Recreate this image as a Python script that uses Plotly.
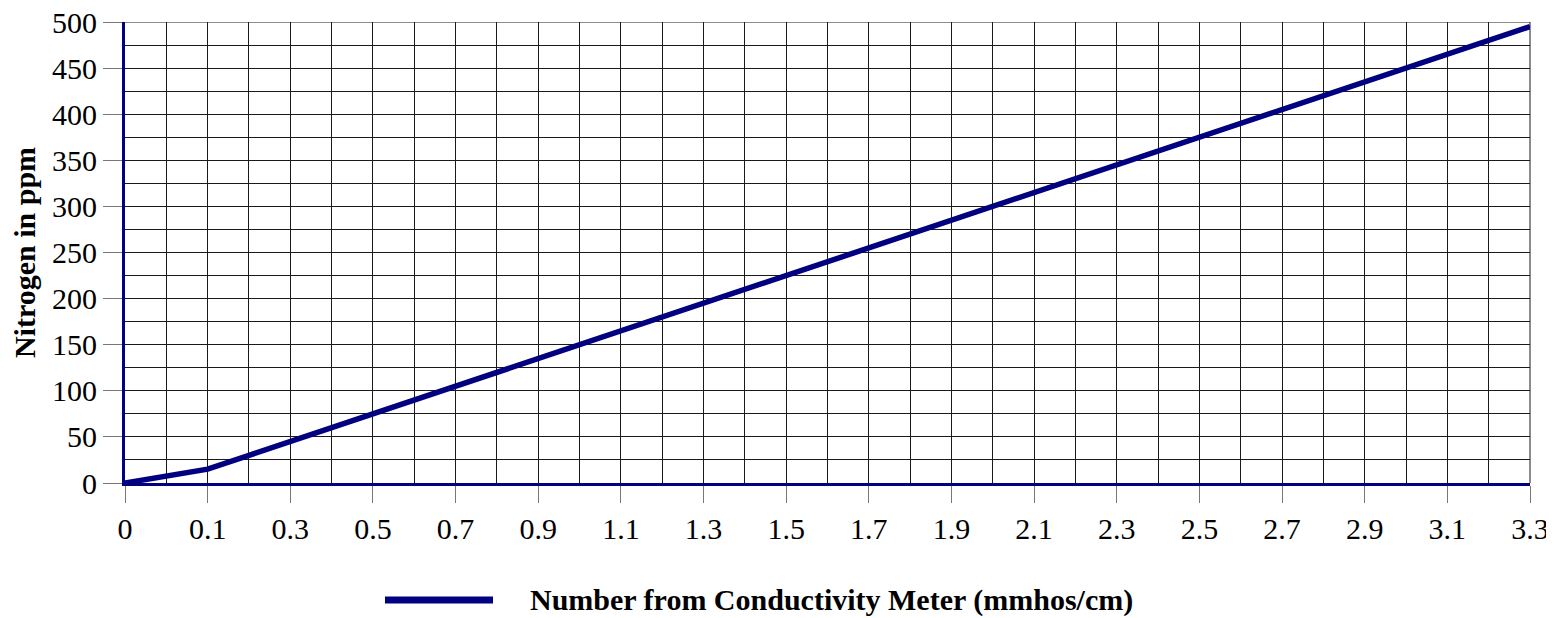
import plotly.graph_objects as go

categories = ["0", "0.05", "0.1", "0.2", "0.3", "0.4", "0.5", "0.6", "0.7", "0.8",
              "0.9", "1.0", "1.1", "1.2", "1.3", "1.4", "1.5", "1.6", "1.7", "1.8",
              "1.9", "2.0", "2.1", "2.2", "2.3", "2.4", "2.5", "2.6", "2.7", "2.8",
              "2.9", "3.0", "3.1", "3.2", "3.3"]
nitrogen_ppm = [0, 7.5, 15, 30, 45, 60, 75, 90, 105, 120,
                135, 150, 165, 180, 195, 210, 225, 240, 255, 270,
                285, 300, 315, 330, 345, 360, 375, 390, 405, 420,
                435, 450, 465, 480, 495]
labeled_cats = categories[::2]
y_max = 500

series_name = "Number from Conductivity Meter (mmhos/cm)"
y_title = "Nitrogen in ppm"

NAVY = "#000080"
GRID = "#1a1a1a"
FONT = "Liberation Serif"

# page body adds an 8px margin; size the figure so it fills the 1554x618 window
W, H = 1546, 610
PL, PR, PT, PB = 117, 24, 14, 135
plot_w = W - PL - PR
plot_h = H - PT - PB

fig = go.Figure()
fig.add_trace(go.Scatter(
    x=categories, y=nitrogen_ppm, mode="lines", name=series_name,
    line=dict(color=NAVY, width=5.5), xaxis="x", yaxis="y", showlegend=False,
))
# invisible trace to carry the full-category grid axis
fig.add_trace(go.Scatter(
    x=categories, y=nitrogen_ppm, mode="lines", showlegend=False,
    line=dict(color="rgba(0,0,0,0)", width=0), hoverinfo="skip",
    xaxis="x2", yaxis="y",
))

# border grid lines at the top and right edges (plotly drops gridlines at range ends)
fig.add_shape(type="line", xref="paper", yref="y", x0=0, x1=1, y0=y_max, y1=y_max,
              line=dict(color=GRID, width=1), layer="below")
fig.add_shape(type="line", xref="paper", yref="paper", x0=1, x1=1, y0=0, y1=1,
              line=dict(color=GRID, width=1), layer="below")

# legend drawn below the plot: sample line + bold label
leg_y = -(592 - (H - PB)) / plot_h
fig.add_shape(type="line", xref="paper", yref="paper",
              x0=(377 - PL) / plot_w, x1=(485 - PL) / plot_w, y0=leg_y, y1=leg_y,
              line=dict(color=NAVY, width=7))
fig.add_annotation(xref="paper", yref="paper", x=(520 - PL) / plot_w, y=leg_y,
                   xanchor="left", yanchor="middle", showarrow=False,
                   text=series_name,
                   font=dict(family=FONT, size=30, color="black", weight="bold"))

n = len(categories)
fig.update_layout(
    width=W, height=H,
    margin=dict(l=PL, r=PR, t=PT, b=PB, autoexpand=False),
    paper_bgcolor="white", plot_bgcolor="white",
    font=dict(family=FONT, color="black", size=30),
    showlegend=False,
    xaxis=dict(
        type="category", categoryorder="array", categoryarray=categories,
        range=[0, n - 1], tickmode="array", tickvals=labeled_cats, ticktext=labeled_cats,
        ticks="outside", ticklen=17, tickcolor="#777", tickwidth=1,
        showgrid=False, showline=True, linecolor=NAVY, linewidth=3,
        zeroline=False, tickfont=dict(size=30), automargin=False,
        ticklabeloverflow="allow",
    ),
    xaxis2=dict(
        type="category", categoryorder="array", categoryarray=categories,
        overlaying="x", range=[0, n - 1], tickmode="array", tickvals=categories,
        showticklabels=False, ticks="", showgrid=True, gridcolor=GRID, gridwidth=1,
        showline=False, zeroline=False, layer="below traces", automargin=False,
    ),
    yaxis=dict(
        range=[0, y_max], dtick=50, tick0=0,
        ticks="outside", ticklen=19, tickcolor="#777", tickwidth=1,
        showgrid=True, gridcolor=GRID, gridwidth=1,
        minor=dict(dtick=25, showgrid=True, gridcolor=GRID, gridwidth=1, ticks=""),
        showline=True, linecolor=NAVY, linewidth=3, zeroline=False,
        tickfont=dict(size=30), automargin=False, ticklabeloverflow="allow",
        title=dict(text=y_title, font=dict(size=30, weight="bold"), standoff=10),
    ),
)

fig.write_html("out.html")
